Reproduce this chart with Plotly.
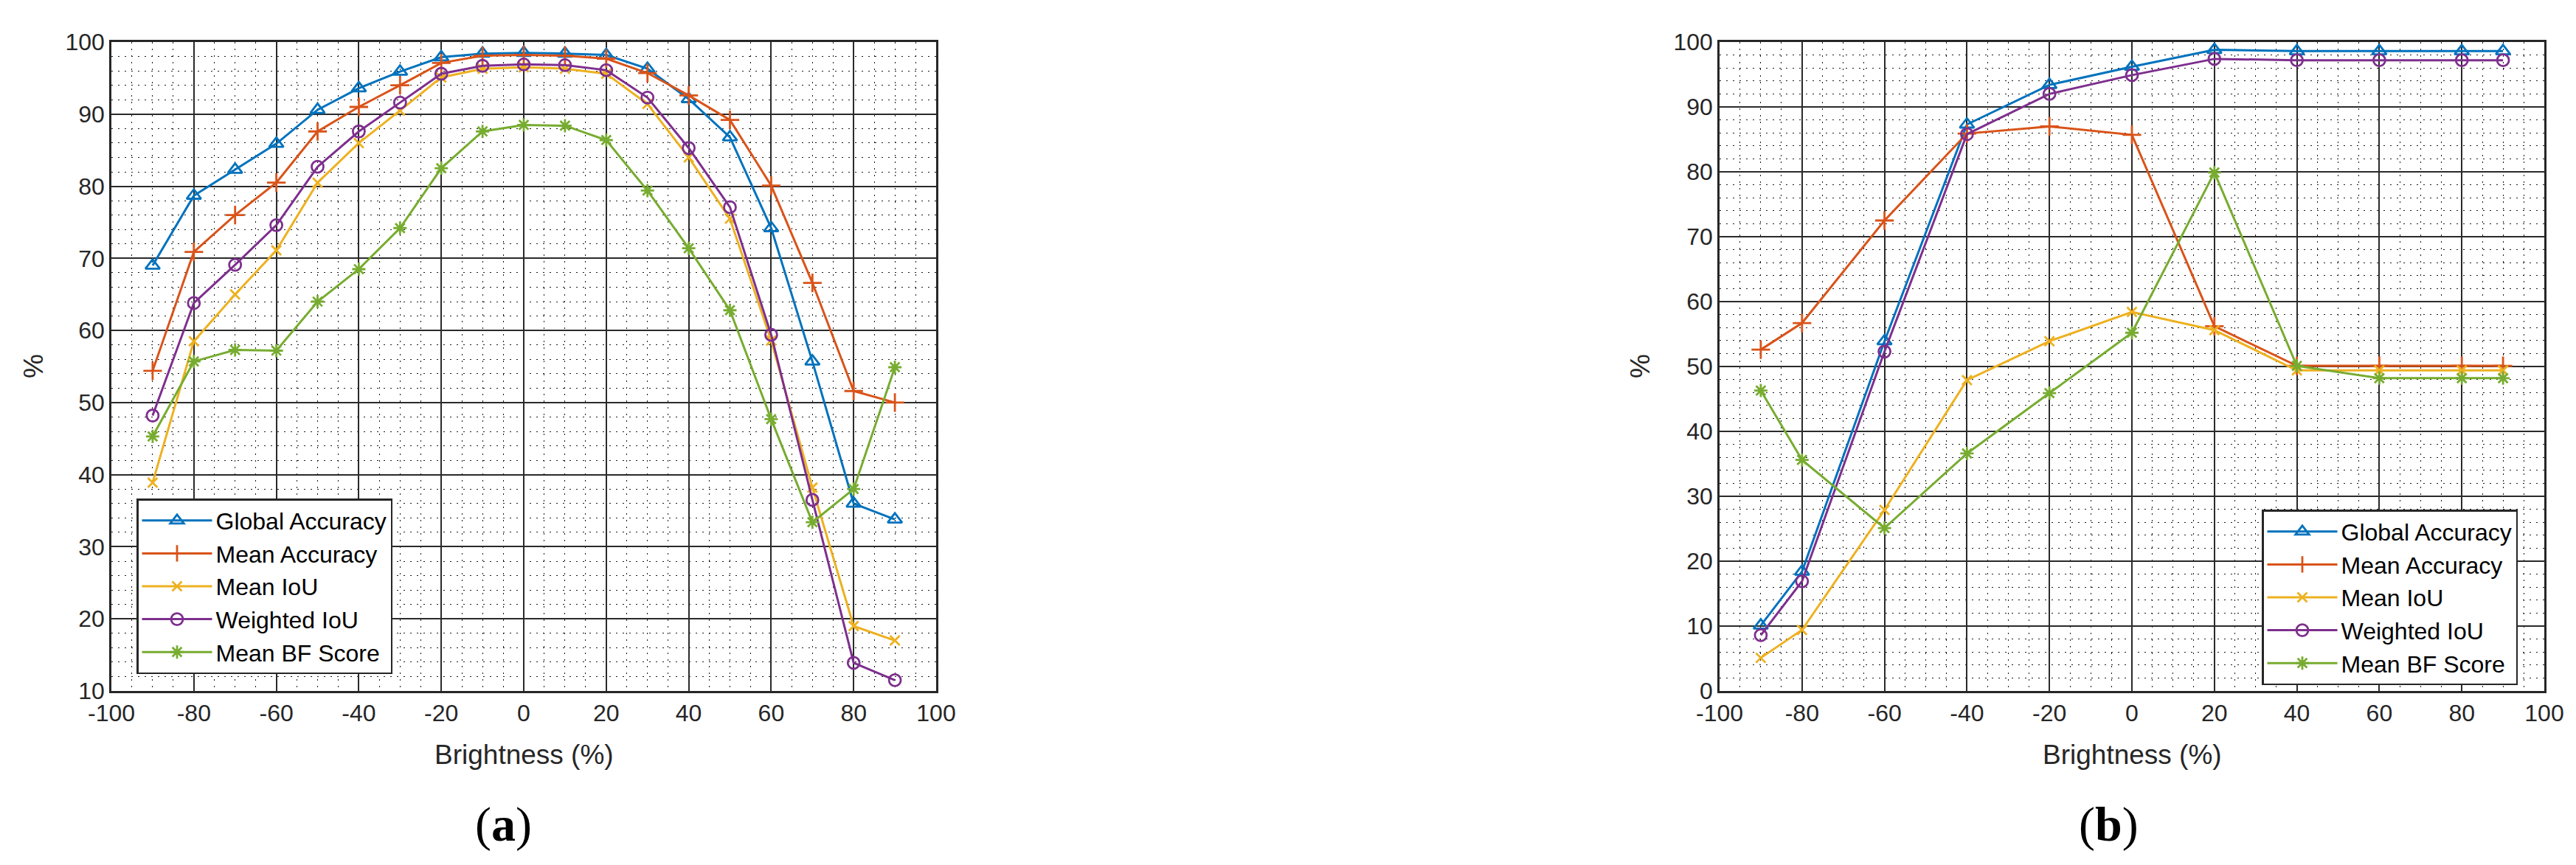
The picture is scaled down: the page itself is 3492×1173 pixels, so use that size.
"""
Segmentation metrics vs. brightness, two panels (a) and (b).
"""

import plotly.graph_objects as go

# ---- data -------------------------------------------------------------
brightness_a = [-90, -80, -70, -60, -50, -40, -30, -20, -10, 0,
                10, 20, 30, 40, 50, 60, 70, 80, 90]
global_acc_a = [69.0, 78.7, 82.3, 85.9, 90.6, 93.6, 95.9, 97.9, 98.4, 98.5,
                98.4, 98.2, 96.3, 92.1, 86.8, 74.2, 55.7, 36.0, 33.8]
mean_acc_a = [54.4, 70.9, 76.0, 80.5, 87.6, 91.0, 94.0, 97.1, 98.1, 98.2,
              98.1, 97.7, 95.7, 92.6, 89.2, 80.1, 66.6, 51.6, 50.0]
mean_iou_a = [38.9, 58.5, 65.0, 71.1, 80.5, 86.0, 90.5, 95.1, 96.3, 96.5,
              96.3, 95.6, 91.4, 84.0, 75.5, 58.6, 38.2, 19.0, 17.0]
weighted_iou_a = [48.2, 63.8, 69.1, 74.6, 82.7, 87.6, 91.6, 95.6, 96.7, 96.9,
                  96.8, 96.1, 92.3, 85.3, 77.1, 59.4, 36.5, 13.9, 11.5]
mean_bf_a = [45.3, 55.7, 57.3, 57.2, 64.0, 68.5, 74.2, 82.5, 87.6, 88.5,
             88.4, 86.4, 79.4, 71.4, 62.8, 47.7, 33.4, 38.0, 54.9]

brightness_b = [-90, -80, -60, -40, -20, 0, 20, 40, 60, 80, 90]
global_acc_b = [10.1, 18.4, 53.9, 87.3, 93.4, 96.2, 98.8, 98.6, 98.6, 98.6, 98.6]
mean_acc_b = [52.6, 56.7, 72.5, 85.9, 87.0, 85.7, 56.2, 50.1, 50.1, 50.1, 50.1]
mean_iou_b = [5.1, 9.4, 27.9, 47.9, 53.9, 58.4, 55.6, 49.4, 49.4, 49.4, 49.4]
weighted_iou_b = [8.6, 16.9, 52.3, 85.8, 92.0, 94.9, 97.4, 97.2, 97.2, 97.2, 97.2]
mean_bf_b = [46.3, 35.6, 25.1, 36.6, 45.9, 55.2, 79.9, 50.1, 48.2, 48.2, 48.2]

x_ticks = [-100, -80, -60, -40, -20, 0, 20, 40, 60, 80, 100]
x_ticklabels = ['-100', '-80', '-60', '-40', '-20', '0', '20', '40', '60', '80', '100']

metric_names = ['Global Accuracy', 'Mean Accuracy', 'Mean IoU',
                'Weighted IoU', 'Mean BF Score']
colors = ['#0072BD', '#D95319', '#EDB120', '#7E2F8E', '#77AC30']
symbols = ['triangle-up-open', 'cross-thin-open', 'x-thin-open',
           'circle-open', 'asterisk-open']
marker_sizes = [17, 18, 13, 16, 15]

FONT = 'Liberation Sans, Arial, sans-serif'
INK = '#262626'
W, H = 3492, 1173

fig = go.Figure()

panels = [
    (brightness_a, [global_acc_a, mean_acc_a, mean_iou_a, weighted_iou_a, mean_bf_a],
     'x', 'y', 'legend'),
    (brightness_b, [global_acc_b, mean_acc_b, mean_iou_b, weighted_iou_b, mean_bf_b],
     'x2', 'y2', 'legend2'),
]

for xs, series, xref, yref, leg in panels:
    for name, ys, color, sym, size in zip(metric_names, series, colors,
                                          symbols, marker_sizes):
        fig.add_trace(go.Scatter(
            x=xs, y=ys, name=name, mode='lines+markers',
            xaxis=xref, yaxis=yref, legend=leg,
            line=dict(color=color, width=3),
            marker=dict(symbol=sym, size=size, color=color,
                        line=dict(color=color, width=2.8)),
        ))

# dotted minor grid, solid major grid
minor_grid = dict(showgrid=True, gridcolor='#1a1a1a',
                  griddash='2px,7px', gridwidth=1.4)

grid_common = dict(
    showline=True, linecolor=INK, linewidth=2.5, mirror=True,
    showgrid=True, gridcolor='#2a2a2a', gridwidth=1.5,
    zeroline=False, ticks='', automargin=False,
    tickfont=dict(family=FONT, size=32, color=INK),
)

x_common = dict(
    grid_common, range=[-100, 100],
    tickmode='array', tickvals=x_ticks, ticktext=x_ticklabels,
    minor=dict(minor_grid, tickmode='linear', tick0=-100, dtick=5),
)

y_top, y_bot = 49, 929
y_dom = [1 - y_bot / H, 1 - y_top / H]

legend_style = dict(xanchor='left', yanchor='top',
                    bgcolor='white', bordercolor=INK, borderwidth=2.5,
                    font=dict(family=FONT, size=32, color='black'),
                    itemwidth=95, tracegroupgap=0)

fig.update_layout(
    width=W, height=H,
    margin=dict(l=0, r=0, t=0, b=0, autoexpand=False),
    paper_bgcolor='white', plot_bgcolor='white',
    font=dict(family=FONT, color=INK),
    xaxis=dict(x_common, domain=[143 / W, 1261 / W], anchor='y'),
    yaxis=dict(grid_common, domain=y_dom, anchor='x',
               range=[10, 100], dtick=10,
               minor=dict(minor_grid, dtick=2)),
    xaxis2=dict(x_common, domain=[2323 / W, 3441 / W], anchor='y2'),
    yaxis2=dict(grid_common, domain=y_dom, anchor='x2',
                range=[0, 100], dtick=10,
                minor=dict(minor_grid, dtick=2)),
    legend=dict(legend_style, x=177 / W, y=1 - 668 / H),
    legend2=dict(legend_style, x=3058 / W, y=1 - 683 / H),
    showlegend=True,
)

# axis titles
for xc in [702, 2882]:
    fig.add_annotation(
        text='Brightness (%)', xref='paper', yref='paper',
        x=xc / W, y=1 - 1015 / H, xanchor='center', yanchor='middle',
        showarrow=False, font=dict(family=FONT, size=37, color=INK))
for xc in [38, 2216]:
    fig.add_annotation(
        text='%', xref='paper', yref='paper', textangle=-90,
        x=xc / W, y=1 - 489 / H, xanchor='center', yanchor='middle',
        showarrow=False, font=dict(family=FONT, size=37, color=INK))

# panel captions
for text, xc in [('(<b>a</b>)', 674), ('(<b>b</b>)', 2850)]:
    fig.add_annotation(
        text=text, xref='paper', yref='paper', x=xc / W, y=1 - 1110 / H,
        xanchor='center', yanchor='middle', showarrow=False,
        font=dict(family='Liberation Serif, Times New Roman, serif',
                  size=66, color='black'),
    )

fig.write_html("out.html")
